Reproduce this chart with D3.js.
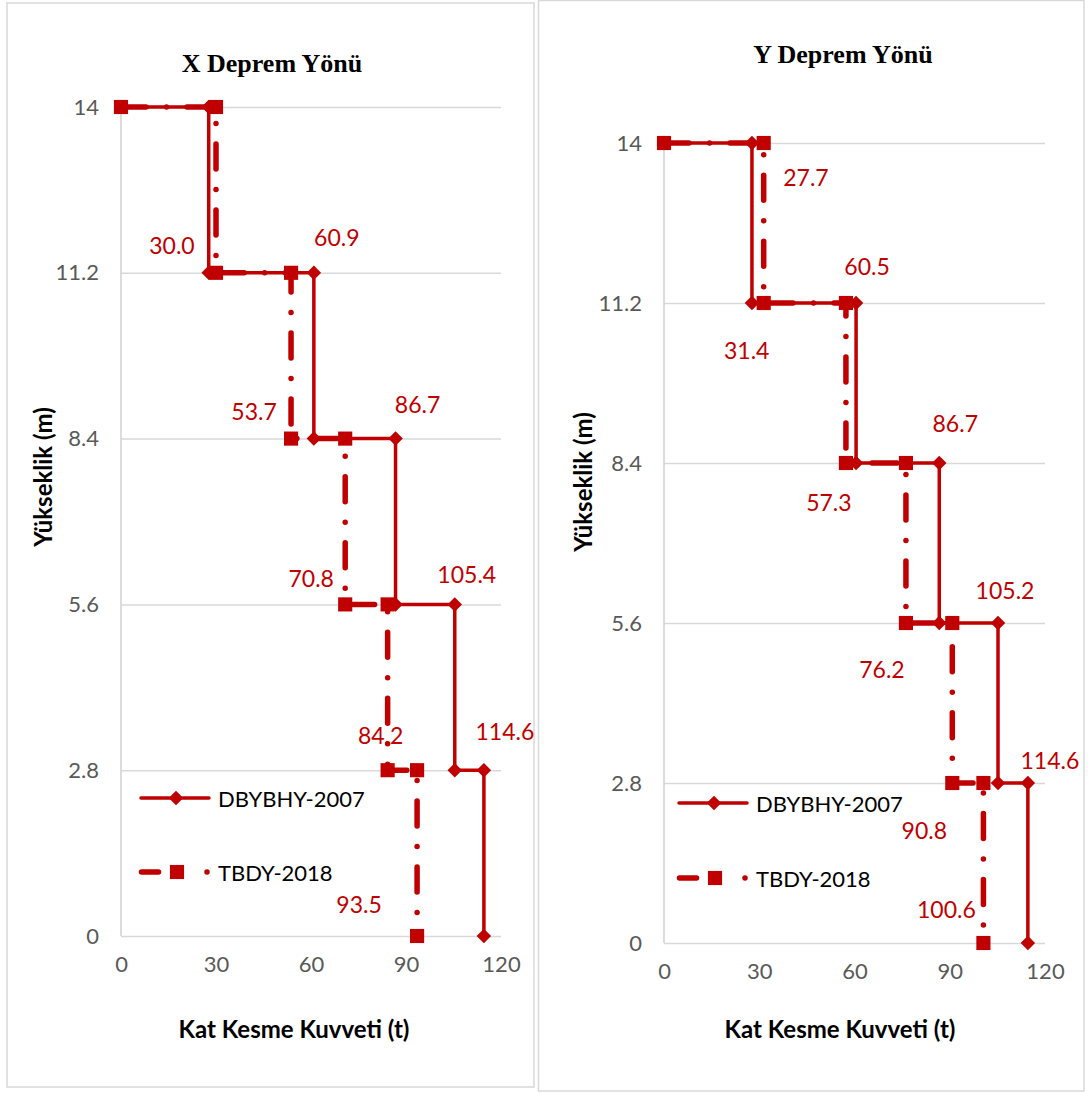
<!DOCTYPE html>
<html>
<head>
<meta charset="utf-8">
<script src="https://cdn.jsdelivr.net/npm/d3@7"></script>
<style>
  html, body { margin: 0; padding: 0; background: #fff; }
  svg { display: block; }
</style>
</head>
<body>
<svg id="chart" width="1088" height="1093"></svg>
<script>
// Storey levels (m) and tick values
const storeyLevels = [14, 11.2, 8.4, 5.6, 2.8, 0];
const xTickValues = [0, 30, 60, 90, 120];
const yTickValues = [0, 2.8, 5.6, 8.4, 11.2, 14];
const seriesNames = ["DBYBHY-2007", "TBDY-2018"];
const panelTitles = ["X Deprem Yönü", "Y Deprem Yönü"];
const xAxisTitle = "Kat Kesme Kuvveti (t)";
const yAxisTitle = "Yükseklik (m)";

// Storey shear forces (t), top storey first
const shearX_DBYBHY = [27.7, 60.9, 86.7, 105.4, 114.6];
const shearX_TBDY   = [30.0, 53.7, 70.8, 84.2, 93.5];
const shearY_DBYBHY = [27.7, 60.5, 86.7, 105.2, 114.6];
const shearY_TBDY   = [31.4, 57.3, 76.2, 90.8, 100.6];

// Label placement (pixel nudges from the storey corner; null = no label)
const labelNudgeX_DBYBHY = [null, [23, -36], [22, -35], [12, -30], [21, -39]];
const labelNudgeX_TBDY   = [[-44, -28], [-37, -28], [-34, -26], [-7, -35], [-58, -32]];
const labelNudgeY_DBYBHY = [[54, 34], [11, -37], [16, -40], [7, -33], [22, -23]];
const labelNudgeY_TBDY   = [[-17, 47], [-17, 39], [-24, 46], [-28, 47], [-37, -34]];

const RED = "#C00000";
const FONT = "Lato, 'Open Sans', sans-serif";
const svg = d3.select("#chart");

// Step profile: starts at (0, top) and walks down storey by storey
function stepPoints(shear) {
  const pts = [[0, storeyLevels[0]]];
  shear.forEach((v, i) => {
    pts.push([v, storeyLevels[i]]);
    pts.push([v, storeyLevels[i + 1]]);
  });
  return pts;
}

const diamond = d3.symbol().type(d3.symbolSquare).size(105)();
const square = d3.symbol().type(d3.symbolSquare).size(200)();
const TBDY_DASH = "25 20.5 0 20.5";

function drawPanel(cfg) {
  const g = svg.append("g");

  // panel frame
  g.append("rect")
    .attr("x", cfg.frame[0]).attr("y", cfg.frame[1])
    .attr("width", cfg.frame[2]).attr("height", cfg.frame[3])
    .attr("fill", "#fff").attr("stroke", "#d9d9d9").attr("stroke-width", 1.5);

  const x = d3.scaleLinear().domain([0, 120]).range([cfg.left, cfg.right]);
  const y = d3.scaleLinear().domain([0, 14]).range([cfg.bottom, cfg.top]);

  // horizontal gridlines
  g.append("g")
    .attr("transform", `translate(${cfg.left},0)`)
    .call(d3.axisLeft(y).tickValues(yTickValues).tickSize(-(cfg.right - cfg.left)).tickFormat(""))
    .call(a => a.select(".domain").remove())
    .call(a => a.selectAll("line").attr("stroke", "#d9d9d9").attr("stroke-width", 1.5));

  // vertical axis line
  g.append("line")
    .attr("x1", cfg.left).attr("x2", cfg.left)
    .attr("y1", cfg.top).attr("y2", cfg.bottom)
    .attr("stroke", "#d0d0d0").attr("stroke-width", 1.5);

  // y tick labels
  g.append("g")
    .attr("transform", `translate(${cfg.left},0)`)
    .call(d3.axisLeft(y).tickValues(yTickValues).tickSize(0).tickPadding(22).tickFormat(d => String(d)))
    .call(a => a.select(".domain").remove())
    .call(a => a.selectAll("text").attr("fill", "#595959").style("font", `22px ${FONT}`));

  // x tick labels
  g.append("g")
    .attr("transform", `translate(0,${cfg.bottom})`)
    .call(d3.axisBottom(x).tickValues(xTickValues).tickSize(0).tickPadding(20).tickFormat(d => String(d)))
    .call(a => a.select(".domain").remove())
    .call(a => a.selectAll("text").attr("fill", "#595959").style("font", `22px ${FONT}`));

  // titles
  g.append("text")
    .attr("x", cfg.titlePos[0]).attr("y", cfg.titlePos[1])
    .attr("text-anchor", "middle").attr("dominant-baseline", "central")
    .style("font", "bold 26px 'Liberation Serif', 'Times New Roman', serif")
    .text(cfg.title);

  g.append("text")
    .attr("x", cfg.xTitlePos[0]).attr("y", cfg.xTitlePos[1])
    .attr("text-anchor", "middle").attr("dominant-baseline", "central")
    .style("font", `bold 24px ${FONT}`)
    .text(xAxisTitle);

  g.append("text")
    .attr("transform", `translate(${cfg.yTitlePos[0]},${cfg.yTitlePos[1]}) rotate(-90)`)
    .attr("text-anchor", "middle").attr("dominant-baseline", "central")
    .style("font", `bold 24px ${FONT}`)
    .text(yAxisTitle);

  const line = d3.line().x(d => x(d[0])).y(d => y(d[1]));

  // DBYBHY-2007: solid line with diamond markers
  const ptsA = stepPoints(cfg.seriesA);
  g.append("path").datum(ptsA)
    .attr("d", line).attr("fill", "none")
    .attr("stroke", RED).attr("stroke-width", 3.5);
  g.append("g").selectAll("path").data(ptsA).join("path")
    .attr("d", diamond)
    .attr("transform", d => `translate(${x(d[0])},${y(d[1])}) rotate(45)`)
    .attr("fill", RED);

  // TBDY-2018: long dash-dot line with square markers
  const ptsB = stepPoints(cfg.seriesB);
  g.append("path").datum(ptsB)
    .attr("d", line).attr("fill", "none")
    .attr("stroke", RED).attr("stroke-width", 5.5)
    .attr("stroke-linecap", "round").attr("stroke-dasharray", TBDY_DASH);
  g.append("g").selectAll("path").data(ptsB).join("path")
    .attr("d", square)
    .attr("transform", d => `translate(${x(d[0])},${y(d[1])})`)
    .attr("fill", RED);

  // data labels
  const labels = g.append("g")
    .attr("fill", RED).style("font", `23px ${FONT}`)
    .attr("text-anchor", "middle").attr("dominant-baseline", "central");
  cfg.seriesA.forEach((v, i) => {
    const n = cfg.nudgeA[i];
    if (!n) return;
    labels.append("text")
      .attr("x", x(v) + n[0]).attr("y", y(storeyLevels[i]) + n[1])
      .text(v.toFixed(1));
  });
  cfg.seriesB.forEach((v, i) => {
    const n = cfg.nudgeB[i];
    if (!n) return;
    labels.append("text")
      .attr("x", x(v) + n[0]).attr("y", y(storeyLevels[i + 1]) + n[1])
      .text(v.toFixed(1));
  });

  // legend
  const lg = g.append("g").attr("transform", `translate(${cfg.legend[0]},0)`);
  const ly1 = cfg.legend[1], ly2 = cfg.legend[2];
  lg.append("line")
    .attr("x1", 2).attr("x2", 70).attr("y1", ly1).attr("y2", ly1)
    .attr("stroke", RED).attr("stroke-width", 3.5).attr("stroke-linecap", "round");
  lg.append("path").attr("d", diamond)
    .attr("transform", `translate(37,${ly1}) rotate(45)`).attr("fill", RED);
  lg.append("text").attr("x", 79).attr("y", ly1)
    .attr("dominant-baseline", "central").style("font", `22px ${FONT}`)
    .text(seriesNames[0]);

  lg.append("line")
    .attr("x1", 2.5).attr("x2", 70).attr("y1", ly2).attr("y2", ly2)
    .attr("stroke", RED).attr("stroke-width", 5.5).attr("stroke-linecap", "round")
    .attr("stroke-dasharray", "17 48.5 0 100");
  lg.append("path").attr("d", square)
    .attr("transform", `translate(38,${ly2})`).attr("fill", RED);
  lg.append("text").attr("x", 79).attr("y", ly2)
    .attr("dominant-baseline", "central").style("font", `22px ${FONT}`)
    .text(seriesNames[1]);
}

drawPanel({
  frame: [7, 3, 527, 1084],
  left: 121, right: 501, top: 107, bottom: 936,
  title: panelTitles[0], titlePos: [272, 63],
  xTitlePos: [294, 1028], yTitlePos: [42, 477],
  seriesA: shearX_DBYBHY, seriesB: shearX_TBDY,
  nudgeA: labelNudgeX_DBYBHY, nudgeB: labelNudgeX_TBDY,
  legend: [139, 798, 872]
});

drawPanel({
  frame: [538.5, 0.5, 545.5, 1090.5],
  left: 664, right: 1045, top: 143, bottom: 943,
  title: panelTitles[1], titlePos: [843, 54],
  xTitlePos: [840, 1028], yTitlePos: [582, 482],
  seriesA: shearY_DBYBHY, seriesB: shearY_TBDY,
  nudgeA: labelNudgeY_DBYBHY, nudgeB: labelNudgeY_TBDY,
  legend: [677, 803, 878]
});
</script>
</body>
</html>
